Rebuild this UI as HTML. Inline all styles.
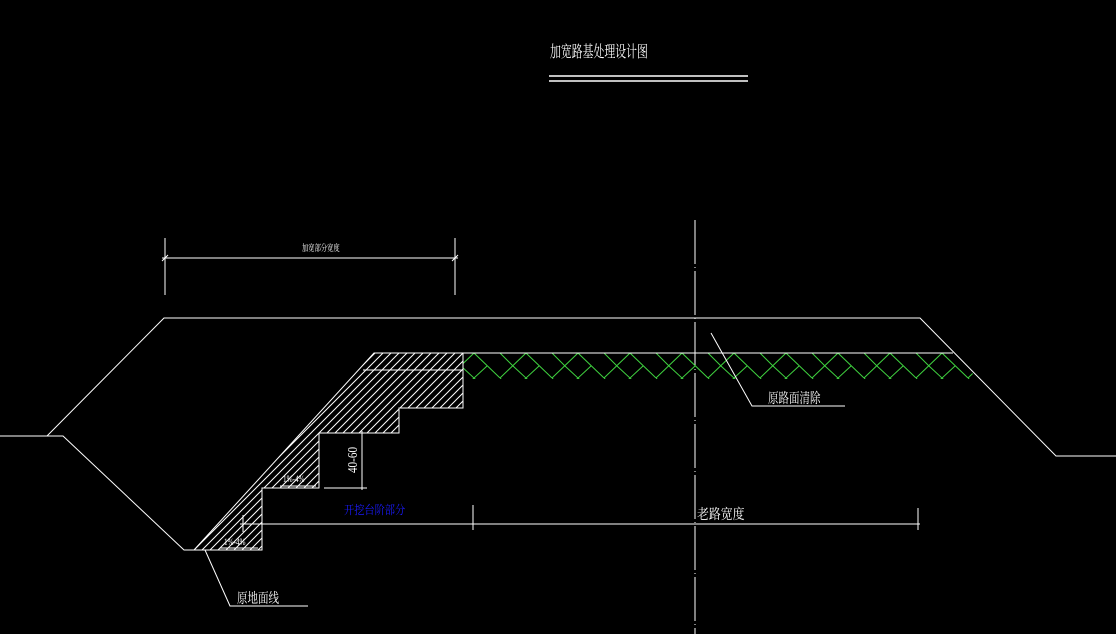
<!DOCTYPE html>
<html><head><meta charset="utf-8"><style>
html,body{margin:0;padding:0;background:#000;width:1116px;height:634px;overflow:hidden}
svg{display:block}
text{font-family:"Liberation Serif","Noto Serif CJK SC",serif}
</style></head><body>
<svg width="1116" height="634" viewBox="0 0 1116 634" xmlns="http://www.w3.org/2000/svg">
<defs>
<pattern id="hatch" patternUnits="userSpaceOnUse" width="8" height="8">
<path d="M-2,10 L10,-2 M-2,2 L2,-2 M6,10 L10,6" stroke="#fff" stroke-width="1"/>
</pattern>
<pattern id="grass" patternUnits="userSpaceOnUse" x="422" y="353" width="52" height="25">
<g stroke="#3fd23f" stroke-width="1" fill="none">
<path d="M0,0 L26,25 M52,0 L26,25 M26,0 L39,13 M13,13 L0,25 M52,25 L39,13"/>
</g>
</pattern>
<clipPath id="gclip"><polygon points="463,353 953,353 978,379 463,379"/></clipPath>
</defs>
<rect width="1116" height="634" fill="#000"/>

<!-- title -->
<text transform="translate(550,57) scale(0.68,1)" fill="#fff" font-size="16">加宽路基处理设计图</text>
<line x1="549" y1="76" x2="748" y2="76" stroke="#fff" stroke-width="1.5"/>
<line x1="549" y1="81" x2="748" y2="81" stroke="#fff" stroke-width="1.5"/>

<!-- center line -->
<line x1="695" y1="220" x2="695" y2="634" stroke="#fff" stroke-width="1" stroke-dasharray="44,3,1,3"/>

<!-- embankment outline -->
<polyline points="0,436 47,436 164,318 920,318 1056,456 1116,456" fill="none" stroke="#fff" stroke-width="1"/>
<polyline points="47,436 63,436 184,550 194,550" fill="none" stroke="#fff" stroke-width="1"/>

<!-- green band -->
<rect x="463" y="353" width="520" height="26" fill="url(#grass)" clip-path="url(#gclip)"/>
<line x1="374" y1="353" x2="953" y2="353" stroke="#fff" stroke-width="1"/>

<!-- hatched widening -->
<polygon points="194,550 374,353 463,353 463,408 399,408 399,433 319,433 319,488 262,488 262,550" fill="url(#hatch)" stroke="#fff" stroke-width="1"/>
<line x1="363" y1="370" x2="463" y2="370" stroke="#fff" stroke-width="1"/>

<!-- 1%-4% marks -->
<text transform="translate(283,482) scale(0.8,1)" fill="#fff" font-size="9">1%-4%</text>
<line x1="280" y1="486" x2="316" y2="486" stroke="#fff"/>
<text transform="translate(224,545) scale(0.8,1)" fill="#fff" font-size="9">1%-4%</text>
<line x1="220" y1="548" x2="258" y2="548" stroke="#fff"/>

<!-- 40-60 dim -->
<line x1="362" y1="431" x2="362" y2="490" stroke="#fff"/>
<line x1="324" y1="488" x2="367" y2="488" stroke="#fff"/>
<text transform="translate(357,460) rotate(-90) scale(0.8,1)" x="0" y="0" fill="#fff" font-size="14" text-anchor="middle">40-60</text>

<!-- top dim -->
<line x1="165" y1="238" x2="165" y2="295" stroke="#fff"/>
<line x1="455" y1="238" x2="455" y2="295" stroke="#fff"/>
<line x1="162" y1="258" x2="458" y2="258" stroke="#fff"/>
<line x1="162" y1="261" x2="168" y2="255" stroke="#fff"/>
<line x1="452" y1="261" x2="458" y2="255" stroke="#fff"/>
<text transform="translate(302,251) scale(0.7,1)" fill="#fff" font-size="9">加宽部分宽度</text>

<!-- bottom dims -->
<line x1="240" y1="524" x2="920" y2="524" stroke="#fff"/>
<line x1="243" y1="515" x2="243" y2="532" stroke="#fff"/>
<line x1="473" y1="505" x2="473" y2="530" stroke="#fff"/>
<line x1="918" y1="508" x2="918" y2="530" stroke="#fff"/>
<text transform="translate(344,514) scale(0.85,1)" fill="#1a1aff" font-size="12">开挖台阶部分</text>
<text transform="translate(697,519) scale(0.85,1)" fill="#fff" font-size="14">老路宽度</text>

<!-- leaders -->
<polyline points="711,333 752,406 845,406" fill="none" stroke="#fff"/>
<text transform="translate(768,403) scale(0.75,1)" fill="#fff" font-size="14">原路面清除</text>
<polyline points="205,550 230,606 308,606" fill="none" stroke="#fff"/>
<text transform="translate(237,603) scale(0.75,1)" fill="#fff" font-size="14">原地面线</text>
</svg>
</body></html>
